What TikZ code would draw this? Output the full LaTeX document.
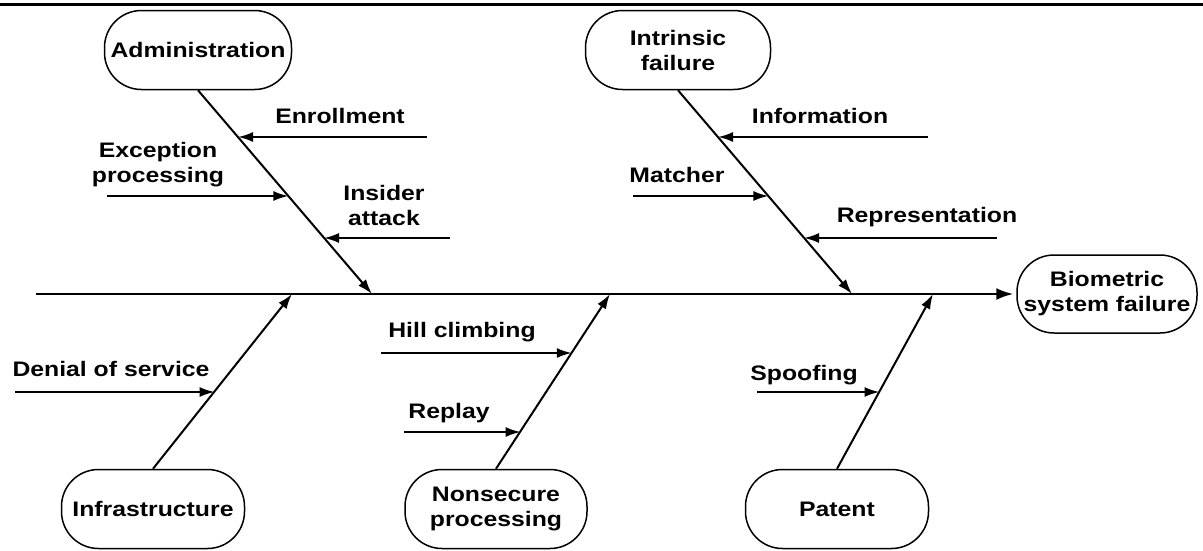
\documentclass[tikz,border=0pt]{standalone}
\usepackage{fontspec}
\setmainfont{Liberation Sans}[FakeStretch=1.18]
\usetikzlibrary{arrows.meta}
\begin{document}
\begin{tikzpicture}[x=1pt,y=-1pt,
  every node/.style={font=\fontsize{21}{25}\selectfont\bfseries, align=center, inner sep=0pt},
  box/.style={draw, line width=1.5pt, rounded corners=37pt, minimum width=184pt, minimum height=79pt},
  bone/.style={line width=2pt, -{Latex[length=15pt,width=10pt]}},
  cause/.style={line width=2pt, -{Latex[length=15pt,width=10pt]}},
  spine/.style={line width=2.2pt, -{Latex[length=17pt,width=12pt]}}]
\useasboundingbox (0,0) rectangle (1203,550);
\draw[line width=3pt] (0,4) -- (1203,4);

% head and spine
\node[box, minimum width=180pt, minimum height=78pt] (bio) at (1107,294) {Biometric\\system failure};
\coordinate (st) at (36,294);
\draw[spine, shorten >=3pt] (st) -- (bio.west);

% joints on spine
\coordinate (s1) at (372,294);
\coordinate (s2) at (852,294);
\coordinate (b1) at (292,294);
\coordinate (b2) at (610,294);
\coordinate (b3) at (933,294);

% category boxes
\node[box, minimum width=187pt] (adm) at (198,50) {Administration};
\node[box, minimum width=185pt] (intr) at (678,50) {Intrinsic\\failure};
\node[box, minimum width=183pt] (infra) at (153,509) {Infrastructure};
\node[box, minimum width=182pt] (nonsec) at (496,509) {Nonsecure\\processing};
\node[box, minimum width=183pt] (patent) at (837,509) {Patent};

% bones
\draw[bone] (adm.south) -- (s1);
\draw[bone] (intr.south) -- (s2);
\draw[bone] (infra.north) -- (b1);
\draw[bone] (nonsec.north) -- (b2);
\draw[bone] (patent.north) -- (b3);

% causes: Administration
\coordinate (enS) at (427,137);  \coordinate (enT) at (238,137);
\coordinate (exS) at (107,196);  \coordinate (exT) at (288.4,196);
\coordinate (inS) at (450,238);  \coordinate (inT) at (324,238);
\draw[cause] (enS) -- (enT);
\draw[cause] (exS) -- (exT);
\draw[cause] (inS) -- (inT);
\node (enL) at (340,116) {Enrollment};
\node (exL) at (158,165) {Exception\\processing};
\node (inL) at (384,205) {Insider\\attack};

% causes: Intrinsic failure
\coordinate (ifS) at (928,137);  \coordinate (ifT) at (718,137);
\coordinate (maS) at (633,196);  \coordinate (maT) at (768.4,196);
\coordinate (reS) at (997,238);  \coordinate (reT) at (804,238);
\draw[cause] (ifS) -- (ifT);
\draw[cause] (maS) -- (maT);
\draw[cause] (reS) -- (reT);
\node (ifL) at (820,116) {Information};
\node (maL) at (677,175) {Matcher};
\node (reL) at (927,217) {Representation};

% causes: Infrastructure
\coordinate (dsS) at (15,392);  \coordinate (dsT) at (214.6,392);
\draw[cause] (dsS) -- (dsT);
\node (dsL) at (111,369) {Denial of service};

% causes: Nonsecure processing
\coordinate (hcS) at (381,353);  \coordinate (hcT) at (571.8,353);
\coordinate (rpS) at (404,432);  \coordinate (rpT) at (520.6,432);
\draw[cause] (hcS) -- (hcT);
\draw[cause] (rpS) -- (rpT);
\node (hcL) at (462,332) {Hill climbing};
\node (rpL) at (449,413) {Replay};

% causes: Patent
\coordinate (spS) at (757,392);  \coordinate (spT) at (879.5,392);
\draw[cause] (spS) -- (spT);
\node (spL) at (804,375) {Spoofing};
\end{tikzpicture}
\end{document}
